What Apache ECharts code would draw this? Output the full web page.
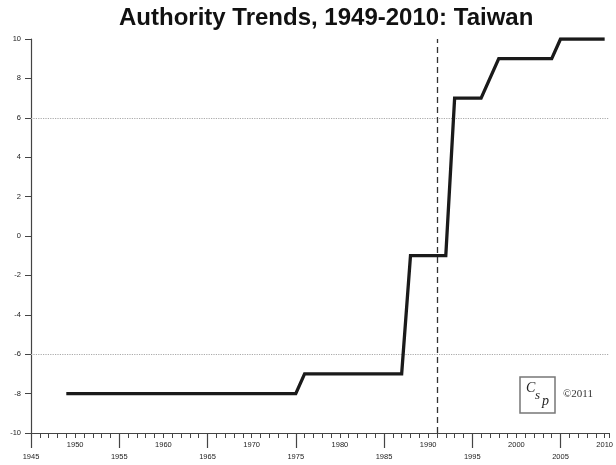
<!DOCTYPE html>
<html>
<head>
<meta charset="utf-8">
<script src="https://cdn.jsdelivr.net/npm/echarts@6/dist/echarts.min.js"></script>
<style>html,body{margin:0;padding:0;background:#fff;}#c{width:616px;height:465px;}</style>
</head>
<body>
<div id="c"></div>
<script>
var titleText = 'Authority Trends, 1949-2010: Taiwan';
var years = [1949, 1975, 1976, 1987, 1988, 1992, 1993, 1996, 1998, 2004, 2005, 2010];
var scores = [-8, -8, -7, -7, -1, -1, 7, 7, 9, 9, 10, 10];
var refLinesY = [6, -6];
var refLineX = 1991;
var xMin = 1945, xMax = 2010.5;
var yMin = -10, yMax = 10;
var copyrightText = '\u00a92011';

var chart = echarts.init(document.getElementById('c'), null, {renderer: 'canvas'});
var lbl = {fontFamily: 'Liberation Sans', fontSize: 7.5, color: '#222'};
chart.setOption({
  backgroundColor: '#fff',
  animation: false,
  title: {
    text: titleText, left: 114, top: 1,
    textStyle: {fontFamily: 'Liberation Sans', fontSize: 24, fontWeight: 'bold', color: '#111'}
  },
  grid: {left: 31, right: 0, top: 39, bottom: 32, containLabel: false},
  xAxis: [{
    type: 'value', min: xMin, max: xMax, interval: 5, position: 'bottom',
    axisLine: {show: true, onZero: false, lineStyle: {color: '#444', width: 1.2}},
    axisTick: {show: true, length: 5, lineStyle: {color: '#444', width: 1}},
    minorTick: {show: true, splitNumber: 5, length: 5, lineStyle: {color: '#444', width: 1}},
    splitLine: {show: false},
    axisLabel: Object.assign({}, lbl, {
      margin: 8, showMaxLabel: false,
      formatter: function (v) { return v % 10 === 0 ? String(v) : ''; }
    })
  }, {
    type: 'value', min: 0, max: xMax - xMin, interval: 10, position: 'bottom',
    axisLine: {show: false, onZero: false},
    axisTick: {show: true, length: 15, inside: false, lineStyle: {color: '#444', width: 1.2}},
    splitLine: {show: false},
    axisLabel: Object.assign({}, lbl, {
      margin: 20, showMaxLabel: false,
      formatter: function (v) { return v % 10 === 0 ? String(v + xMin) : ''; }
    })
  }],
  yAxis: {
    type: 'value', min: yMin, max: yMax, interval: 2,
    axisLine: {show: true, onZero: false, lineStyle: {color: '#444', width: 1.2}},
    axisTick: {show: true, length: 6, lineStyle: {color: '#444', width: 1}},
    splitLine: {show: false},
    axisLabel: Object.assign({}, lbl, {margin: 10})
  },
  series: [{
    type: 'line', xAxisIndex: 0,
    data: years.map(function (y, i) { return [y, scores[i]]; }),
    symbol: 'none',
    lineStyle: {color: '#1a1a1a', width: 3.3, join: 'miter'},
    z: 5,
    markLine: {
      silent: true, symbol: 'none', label: {show: false},
      data: refLinesY.map(function (v) {
        return {yAxis: v, lineStyle: {type: 'dotted', color: '#aaa', width: 1.2}};
      }).concat([{xAxis: refLineX, lineStyle: {type: [6, 4], color: '#333', width: 1.3}}])
    }
  }],
  graphic: [
    {type: 'rect', shape: {x: 520, y: 377, width: 35, height: 36},
     style: {fill: '#fff', stroke: '#777', lineWidth: 1.5}},
    {type: 'text', x: 526, y: 381, style: {text: 'C', fontFamily: 'Liberation Serif', fontStyle: 'italic', fontSize: 14, fill: '#222'}},
    {type: 'text', x: 535, y: 389, style: {text: 's', fontFamily: 'Liberation Serif', fontStyle: 'italic', fontSize: 13, fill: '#222'}},
    {type: 'text', x: 542, y: 394, style: {text: 'p', fontFamily: 'Liberation Serif', fontStyle: 'italic', fontSize: 14, fill: '#222'}},
    {type: 'text', x: 563, y: 389, style: {text: copyrightText, fontFamily: 'Liberation Serif', fontSize: 11, fill: '#333'}}
  ]
});
</script>
</body>
</html>
